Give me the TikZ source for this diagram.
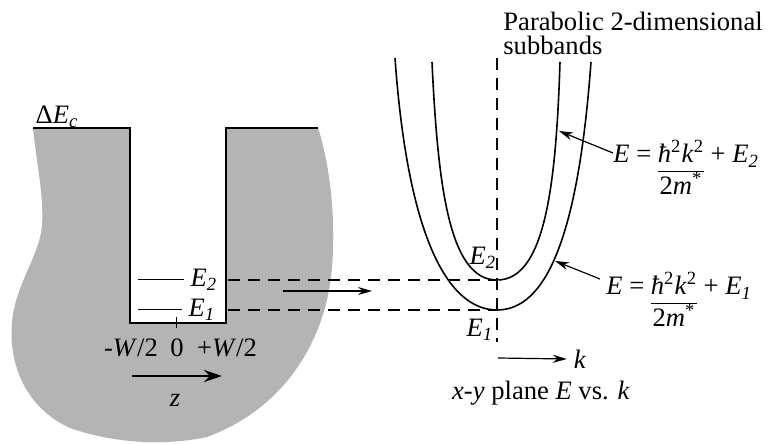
\documentclass[tikz,border=0pt]{standalone}
\usepackage{fontspec}
\setmainfont{Liberation Serif}
\usepackage{tikz}
\usetikzlibrary{arrows.meta,positioning}
\definecolor{wellgray}{RGB}{180,180,180}
\newcommand{\ev}[1]{\textit{E}\textsubscript{\textit{#1}}}
\newcommand{\disp}[1]{\textit{E} = \renewcommand{\arraystretch}{0.9}\begin{tabular}[t]{@{}c@{}}\textit{ħ}\textsuperscript{2}\textit{k}\textsuperscript{2}\\\hline 2\textit{m}\textsuperscript{*}\end{tabular} + \ev{#1}}

\begin{document}
\begin{tikzpicture}[x=0.5pt,y=-0.5pt,font=\fontsize{13.3pt}{15pt}\selectfont,
  level/.style={dash pattern=on 6pt off 4pt,line width=0.6pt},
  band/.style={line width=0.8pt},
  pointer/.style={-{Stealth[length=7pt,width=4pt]},line width=0.6pt}]
\useasboundingbox (0,0) rectangle (768,444);
\fill[wellgray] (33,128) -- (130,128) -- (130,323) -- (226,323) -- (226,128) -- (318,128)
  .. controls (332,170) and (338,240) .. (329,290)
  .. controls (318,350) and (280,410) .. (207,437)
  .. controls (160,447) and (110,442) .. (70,428)
  .. controls (30,410) and (8,370) .. (12,322)
  .. controls (15,285) and (40,255) .. (42,225)
  .. controls (44,195) and (36,160) .. (33,128) -- cycle;
\draw[line width=1pt] (33,128) -- (130,128) -- (130,323) -- (226,323) -- (226,128) -- (318,128);
\node (dEc) at (57,117) {Δ\textit{E}\textsubscript{\textit{c}}};

\node (e2w) at (204,280) {\ev{2}};
\node (e1w) at (202,310) {\ev{1}};
\coordinate (l2) at (138,280);
\coordinate (l1) at (138,310);
\draw[line width=0.5pt] (l2) -- (e2w.west);
\draw[line width=0.5pt] (l1) -- (e1w.west);
\coordinate (tick) at (176,317);
\draw[line width=0.5pt] (tick) -- ++(0,11);
\node (wl) at (131,348) {-\textit{W}/2};
\node (w0) at (177,348) {0};
\node (wr) at (227,348) {+\textit{W}/2};
\coordinate (zs) at (132,376);
\coordinate (ze) at (222,376);
\draw[line width=1.4pt,-{Stealth[length=9pt,width=6pt]}] (zs) -- (ze);
\node (z) at (175,400) {\textit{z}};

\coordinate (min1) at (497,310);
\coordinate (min2) at (497,280);
\coordinate (w1) at (228,310);
\coordinate (w2) at (228,280);
\coordinate (axtop) at (497,58);
\coordinate (axbot) at (497,342);
\draw[level] (w2) -- (min2);
\draw[level] (w1) -- (min1);
\draw[level] (axtop) -- (axbot);
\coordinate (ms) at (283,291);
\coordinate (me) at (372,291);
\draw[pointer] (ms) -- (me);

\draw[band] (395,58) .. controls (408,240) and (449,310) .. (min1)
  .. controls (545,310) and (578,240) .. (591,62);
\draw[band] (432,62) .. controls (438,190) and (450,280) .. (min2)
  .. controls (544,280) and (556,190) .. (560,62);
\node (e2r) at (483,258) {\ev{2}};
\node (e1r) at (480,330) {\ev{1}};

\coordinate (ks) at (498,358);
\node (k) at (580,359) {\textit{k}};
\draw[pointer] (ks) -- (k.west);
\node (cap) at (541,393) {\textit{x}-\textit{y} plane \textit{E} vs. \textit{k}};

\node[anchor=base west,inner sep=0pt,align=left,font=\fontsize{13.3pt}{12pt}\selectfont] (par) at (503,55) {Parabolic 2-dimensional\\subbands};

\node[anchor=base west,inner sep=0pt] (f2) at (613,163) {\disp{2}};
\node[anchor=base west,inner sep=0pt] (f1) at (606,295) {\disp{1}};
\coordinate (a2) at (559,131);
\coordinate (a1) at (555,261);
\draw[pointer] ([yshift=5pt]f2.base west) -- (a2);
\draw[pointer] ([xshift=-3pt,yshift=8pt]f1.base west) -- (a1);
\end{tikzpicture}
\end{document}
